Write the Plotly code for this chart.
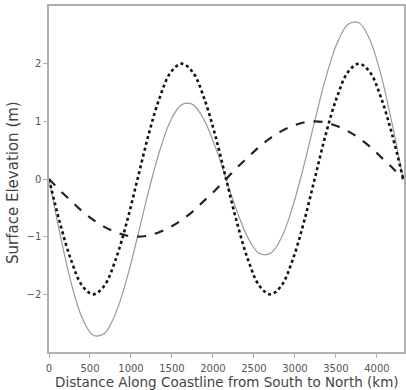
import plotly.graph_objects as go

# Distance along coastline (km), sampled every 135 km
distance_km = [0, 135, 270, 405, 540, 675, 810, 945, 1080, 1215, 1350, 1485, 1620,
               1755, 1890, 2025, 2160, 2295, 2430, 2565, 2700, 2835, 2970, 3105,
               3240, 3375, 3510, 3645, 3780, 3915, 4050, 4185, 4320]

# Dotted curve (short wave), m
short_wave = [0, -0.77, -1.41, -1.85, -2.0, -1.85, -1.41, -0.77, 0, 0.77, 1.41, 1.85, 2.0,
              1.85, 1.41, 0.77, 0, -0.77, -1.41, -1.85, -2.0, -1.85, -1.41, -0.77,
              0, 0.77, 1.41, 1.85, 2.0, 1.85, 1.41, 0.77, 0]

# Dashed curve (long wave), m
long_wave = [0, -0.2, -0.38, -0.56, -0.71, -0.83, -0.92, -0.98, -1.0, -0.98, -0.92, -0.83, -0.71,
             -0.56, -0.38, -0.2, 0, 0.2, 0.38, 0.56, 0.71, 0.83, 0.92, 0.98,
             1.0, 0.98, 0.92, 0.83, 0.71, 0.56, 0.38, 0.2, 0]

# Solid curve (combined), m
combined = [0, -0.96, -1.8, -2.41, -2.71, -2.68, -2.34, -1.75, -1.0, -0.21, 0.49, 1.02, 1.29,
            1.29, 1.03, 0.57, 0, -0.57, -1.03, -1.29, -1.29, -1.02, -0.49, 0.21,
            1.0, 1.75, 2.34, 2.68, 2.71, 2.41, 1.8, 0.96, 0]

x_ticks = [0, 500, 1000, 1500, 2000, 2500, 3000, 3500, 4000]
y_ticks = [-2, -1, 0, 1, 2]

x_title = "Distance Along Coastline from South to North (km)"
y_title = "Surface Elevation (m)"

FONT = "DejaVu Sans"

fig = go.Figure()
fig.add_trace(go.Scatter(x=distance_km, y=combined, mode="lines", line_shape="spline",
                         line=dict(color="#9a9a9a", width=1.2), showlegend=False))
fig.add_trace(go.Scatter(x=distance_km, y=short_wave, mode="lines", line_shape="spline",
                         line=dict(color="#111111", width=2.6, dash="dot"), showlegend=False))
fig.add_trace(go.Scatter(x=distance_km, y=long_wave, mode="lines", line_shape="spline",
                         line=dict(color="#222222", width=2.2, dash="dash"), showlegend=False))

axis_common = dict(showgrid=False, zeroline=False, showline=True, linecolor="#b0b0b0",
                   linewidth=1.5, mirror=True, ticks="outside", ticklen=4, tickcolor="#b0b0b0",
                   automargin=False,
                   tickfont=dict(family=FONT, size=10, color="#555555"))

fig.update_xaxes(range=[0, 4330], tickvals=x_ticks, ticklabelstandoff=2, **axis_common)
fig.update_yaxes(range=[-3, 3], tickvals=y_ticks, **axis_common)

fig.add_annotation(text=x_title, xref="paper", yref="paper", x=0.5, y=-0.088,
                   xanchor="center", yanchor="middle", showarrow=False,
                   font=dict(family=FONT, size=13.5, color="#444444"))
fig.add_annotation(text=y_title, xref="paper", yref="paper", x=-0.1, y=0.49,
                   xanchor="center", yanchor="middle", textangle=-90, showarrow=False,
                   font=dict(family=FONT, size=15, color="#444444"))

fig.update_layout(width=406, height=390, margin=dict(l=49, r=2, t=6, b=38),
                  paper_bgcolor="white", plot_bgcolor="white")

fig.write_html("out.html", post_script="document.body.style.margin='0';",
               config={"displayModeBar": False})
